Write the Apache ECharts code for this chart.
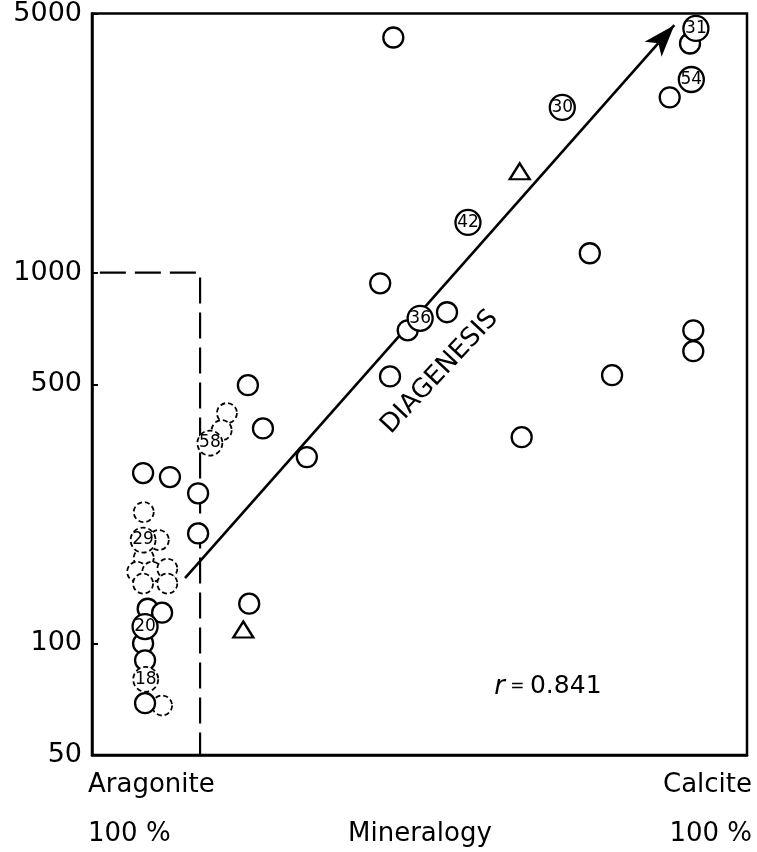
<!DOCTYPE html>
<html><head><meta charset="utf-8">
<script src="https://cdn.jsdelivr.net/npm/echarts@6/dist/echarts.min.js"></script>
<style>html,body{margin:0;padding:0;background:#fff}#c{width:757px;height:852px}</style>
</head><body><div id="c"></div>
<script>
// tick labels (log axis)
const yTicks = [50, 100, 500, 1000, 5000];
// plain open circles (x = % calcite, y = value)
const solidX = [46.0, 91.3, 88.2, 76.0, 44.0, 48.2, 54.2, 45.5, 65.6, 91.8, 91.8, 79.4, 32.8, 23.8, 26.1, 7.8, 11.9, 16.2, 16.2, 8.5, 10.7, 7.8, 8.1, 8.1, 24.0];
const solidY = [4307, 4150, 2970, 1128, 936, 699, 782, 525, 360, 699, 614, 529, 318, 497, 380, 288, 281, 254, 198, 124, 121, 100, 90, 69, 128];
// dashed open circles
const dashedX = [20.6, 19.8, 7.9, 10.2, 7.9, 6.9, 9.2, 11.5, 7.8, 11.5, 10.7];
const dashedY = [418, 376, 226, 190, 170, 156, 156, 159, 145, 145, 68];
// numbered circles
const labX = [92.2, 91.5, 71.8, 57.4, 50.1, 18.0, 7.8, 8.1, 8.2];
const labY = [4557, 3319, 2790, 1366, 753, 347, 190, 111, 80];
const labText = ['31', '54', '30', '42', '36', '58', '29', '20', '18'];
const labDashed = [false, false, false, false, false, true, true, false, true];
// triangles
const triX = [65.3, 23.1];
const triY = [1876, 109];
// diagenesis arrow
const arrowFrom = [14.2, 150];
const arrowTo = [88.9, 4650];
// dashed boundary
const boundaryX = [1.2, 16.5, 16.5];
const boundaryY = [1000, 1000, 50];
// annotations
const arrowText = 'DIAGENESIS';
const arrowTextAt = [53.1, 539];
const rText = '0.841';
const rTextAt = [69.6, 76.3];

const FONT = 'DejaVu Sans';
const INK = '#000';
const chart = echarts.init(document.getElementById('c'), null, {renderer: 'canvas'});

const circleStyle = {color: '#fff', borderColor: INK, borderWidth: 2.3, opacity: 1};
const dashStyle = {color: '#fff', borderColor: INK, borderWidth: 1.8, borderType: [5, 3], opacity: 1};
const pts = (xs, ys) => xs.map((x, i) => [x, ys[i]]);

const option = {
  backgroundColor: '#fff',
  animation: false,
  grid: {left: 92, right: 10, top: 13, bottom: 97, show: true, borderColor: INK, borderWidth: 2.5, backgroundColor: 'transparent'},
  xAxis: {type: 'value', min: 0, max: 100, axisLine: {show: true, lineStyle: {color: INK, width: 2.5}},
    axisTick: {show: false}, axisLabel: {show: false}, splitLine: {show: false}},
  yAxis: {type: 'log', logBase: 10, min: 50, max: 5000,
    axisLine: {show: true, lineStyle: {color: INK, width: 2.5}},
    axisTick: {show: true, inside: true, length: 6, customValues: yTicks, lineStyle: {color: INK, width: 2}},
    axisLabel: {show: true, customValues: yTicks, margin: 10, fontFamily: FONT, fontSize: 27, color: INK,
      formatter: v => String(Math.round(v))},
    splitLine: {show: false}},
  series: [
    {type: 'line', data: pts(boundaryX, boundaryY), symbol: 'none', z: 1, silent: true,
      lineStyle: {color: INK, width: 2.2, type: [26, 9]}},
    {type: 'line', data: [arrowFrom, arrowTo], symbol: 'none', z: 2, silent: true,
      lineStyle: {color: INK, width: 0},
      markLine: {silent: true, label: {show: false},
        lineStyle: {color: INK, width: 2.6, type: 'solid'},
        data: [[{coord: arrowFrom, symbol: 'none'}, {coord: arrowTo, symbol: 'arrow', symbolSize: [17, 32]}]]}},
    {type: 'scatter', data: pts(solidX, solidY), symbol: 'circle', symbolSize: 20, z: 5, itemStyle: circleStyle},
    {type: 'scatter', data: pts(dashedX, dashedY), symbol: 'circle', symbolSize: 20, z: 4, itemStyle: dashStyle},
    {type: 'scatter', symbol: 'circle', symbolSize: 25, z: 6,
      label: {show: true, position: 'inside', color: INK, fontFamily: FONT, fontSize: 17},
      data: labX.map((x, i) => ({value: [x, labY[i]],
        itemStyle: labDashed[i] ? dashStyle : circleStyle,
        label: {show: true, formatter: labText[i], position: 'inside', color: INK, fontFamily: FONT, fontSize: 17}}))},
    {type: 'scatter', data: pts(triX, triY), symbol: 'triangle', symbolSize: [20, 16], z: 5, itemStyle: circleStyle},
    {type: 'scatter', data: [arrowTextAt], symbolSize: 0, z: 7, silent: true, itemStyle: {opacity: 1},
      label: {show: true, position: 'inside', formatter: arrowText, rotate: 47, fontFamily: FONT, fontSize: 26, color: INK}},
    {type: 'scatter', data: [rTextAt], symbolSize: 0, z: 7, silent: true, itemStyle: {opacity: 1},
      label: {show: true, position: 'inside', formatter: '{i|r}{s| = }' + rText,
        rich: {i: {fontStyle: 'italic', fontFamily: FONT, fontSize: 26, color: INK},
               s: {fontFamily: FONT, fontSize: 17, color: INK}},
        fontFamily: FONT, fontSize: 25, color: INK}}
  ],
  graphic: [
    {type: 'text', left: 88, top: 772, style: {text: 'Aragonite', font: '26px "DejaVu Sans"', fill: INK}},
    {type: 'text', right: 5, top: 772, style: {text: 'Calcite', font: '26px "DejaVu Sans"', fill: INK}},
    {type: 'text', left: 88, top: 821, style: {text: '100 %', font: '26px "DejaVu Sans"', fill: INK}},
    {type: 'text', left: 348, top: 821, style: {text: 'Mineralogy', font: '26px "DejaVu Sans"', fill: INK}},
    {type: 'text', right: 5, top: 821, style: {text: '100 %', font: '26px "DejaVu Sans"', fill: INK}}
  ]
};
chart.setOption(option);
</script></body></html>
